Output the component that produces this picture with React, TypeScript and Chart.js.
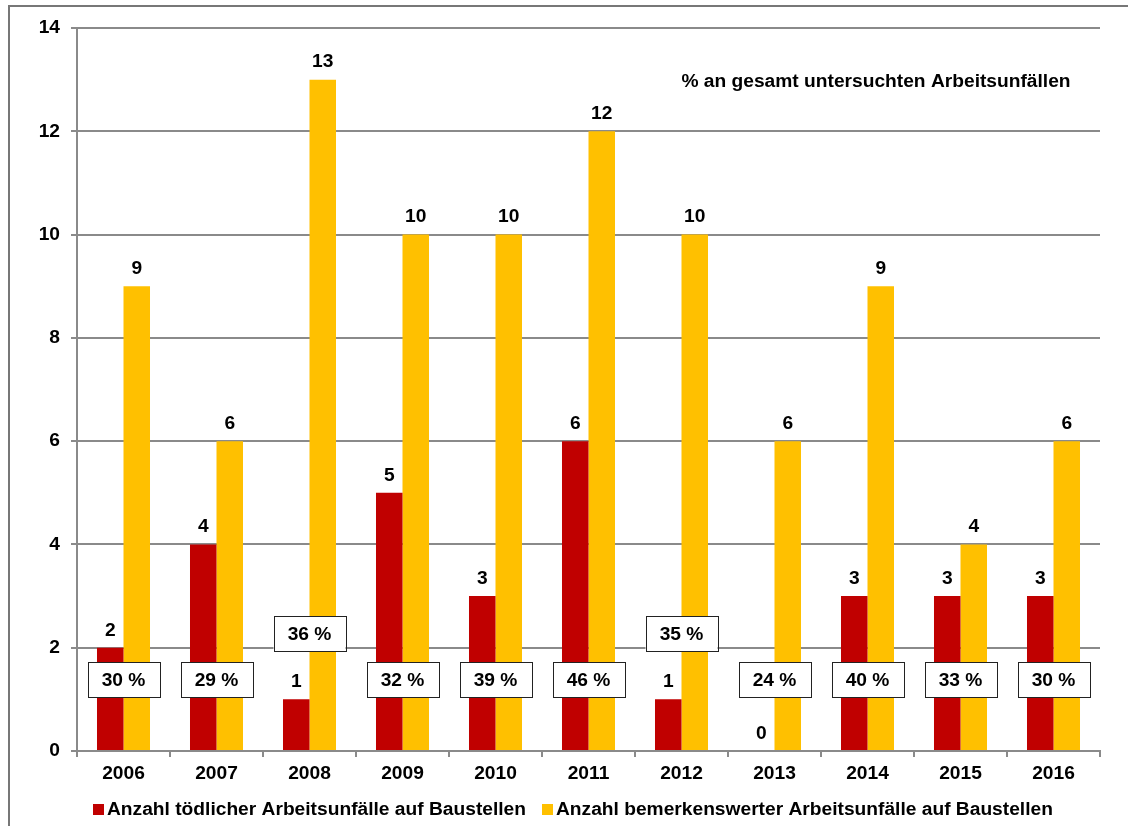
import React, { useEffect, useRef } from "react";
import { Chart, registerables } from "chart.js";

Chart.register(...registerables);

const years = ["2006", "2007", "2008", "2009", "2010", "2011", "2012", "2013", "2014", "2015", "2016"];
const fatalCounts = [2, 4, 1, 5, 3, 6, 1, 0, 3, 3, 3];
const notableCounts = [9, 6, 13, 10, 10, 12, 10, 6, 9, 4, 6];
const sharePercent = [30, 29, 36, 32, 39, 46, 35, 24, 40, 33, 30];
const seriesNames = [
  "Anzahl tödlicher Arbeitsunfälle auf Baustellen",
  "Anzahl bemerkenswerter Arbeitsunfälle auf Baustellen",
];
const noteText = "% an gesamt untersuchten Arbeitsunfällen";

const RED = "#C00000";
const YELLOW = "#FFC000";
const GRID = "#8a8a8a";
const FONT_FAMILY = "'Liberation Sans', Arial, sans-serif";
const FONT = `bold 19.2px ${FONT_FAMILY}`;

const framePlugin = {
  id: "frame",
  beforeDraw(chart: any) {
    const ctx = chart.ctx;
    ctx.save();
    ctx.strokeStyle = "#777777";
    ctx.lineWidth = 2;
    ctx.beginPath();
    ctx.moveTo(9, 826);
    ctx.lineTo(9, 6);
    ctx.lineTo(1128, 6);
    ctx.stroke();
    ctx.restore();
  },
};

const labelsPlugin = {
  id: "labelsAndBoxes",
  afterDatasetsDraw(chart: any) {
    const ctx = chart.ctx;
    const xs = chart.scales.x;
    const ys = chart.scales.y;
    ctx.save();
    ctx.font = FONT;
    ctx.fillStyle = "#000";
    ctx.textAlign = "center";
    ctx.textBaseline = "middle";
    chart.data.datasets.forEach((ds: any, di: number) => {
      const meta = chart.getDatasetMeta(di);
      meta.data.forEach((bar: any, i: number) => {
        ctx.fillText(String(ds.data[i]), bar.x, bar.y - 17.5);
      });
    });
    // share boxes
    sharePercent.forEach((p, i) => {
      const cx = xs.getPixelForValue(i);
      const level = fatalCounts[i] === 1 ? 2.27 : 1.375;
      const cy = ys.getPixelForValue(level);
      const w = 72;
      const h = 35;
      ctx.fillStyle = "#fff";
      ctx.fillRect(cx - w / 2, cy - h / 2, w, h);
      ctx.strokeStyle = "#222";
      ctx.lineWidth = 1;
      ctx.strokeRect(Math.round(cx - w / 2) + 0.5, Math.round(cy - h / 2) + 0.5, w, h);
      ctx.fillStyle = "#000";
      ctx.fillText(`${p} %`, cx, cy + 1);
    });
    // note
    ctx.fillText(noteText, 876, 82);
    // legend
    ctx.textAlign = "left";
    let x = 93;
    const y = 810;
    const colors = [RED, YELLOW];
    seriesNames.forEach((name, i) => {
      ctx.fillStyle = colors[i];
      ctx.fillRect(x, y - 6, 11, 11);
      ctx.fillStyle = "#000";
      ctx.fillText(name, x + 14, y);
      x = x + 14 + ctx.measureText(name).width + 16;
    });
    ctx.restore();
  },
};

export default function App() {
  const ref = useRef<HTMLCanvasElement | null>(null);
  useEffect(() => {
    if (!ref.current) return;
    const chart = new Chart(ref.current, {
      type: "bar",
      data: {
        labels: years,
        datasets: [
          { label: seriesNames[0], data: fatalCounts, backgroundColor: RED, barPercentage: 1, categoryPercentage: 0.57 },
          { label: seriesNames[1], data: notableCounts, backgroundColor: YELLOW, barPercentage: 1, categoryPercentage: 0.57 },
        ],
      },
      options: {
        responsive: false,
        animation: false,
        layout: { padding: { left: 0, top: 28, right: 28, bottom: 0 } },
        plugins: { legend: { display: false }, tooltip: { enabled: false } },
        scales: {
          x: {
            grid: { offset: true, drawOnChartArea: false, drawTicks: true, tickLength: 6, color: GRID, lineWidth: 2 },
            border: { display: true, color: GRID, width: 2 },
            ticks: { color: "#000", font: { family: FONT_FAMILY, size: 19.2, weight: "bold" }, padding: 5, maxRotation: 0 },
            afterFit: (s: any) => {
              s.height = 75;
            },
          },
          y: {
            min: 0,
            max: 14,
            ticks: { stepSize: 2, color: "#000", font: { family: FONT_FAMILY, size: 19.2, weight: "bold" }, padding: 11 },
            grid: { color: GRID, lineWidth: 2, tickLength: 6, drawTicks: true },
            border: { display: true, color: GRID, width: 2 },
            afterFit: (s: any) => {
              s.width = 77;
            },
          },
        },
      },
      plugins: [framePlugin, labelsPlugin],
    });
    return () => chart.destroy();
  }, []);
  return (
    <div style={{ position: "absolute", left: 0, top: 0, width: 1128, height: 826, background: "#fff" }}>
      <canvas ref={ref} width={1128} height={826} style={{ display: "block" }} />
    </div>
  );
}
